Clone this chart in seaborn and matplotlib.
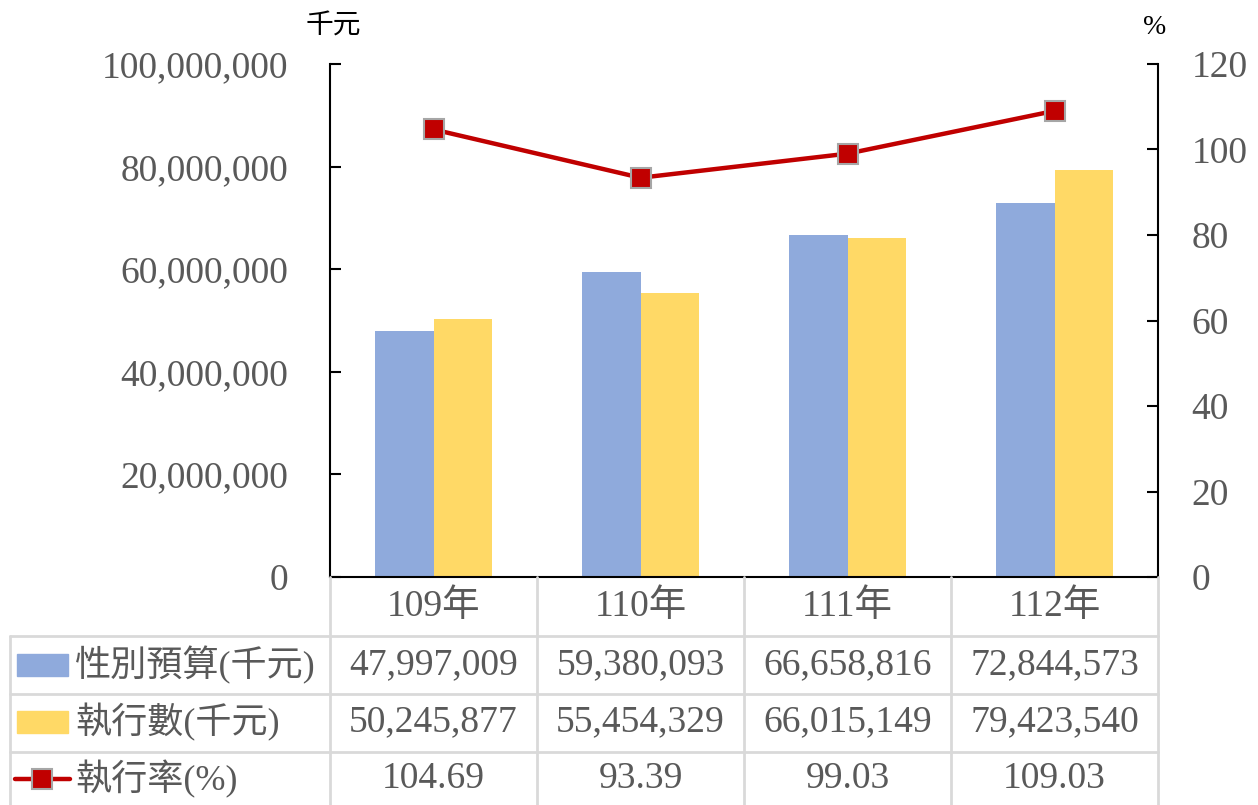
import numpy as np
import pandas as pd
import matplotlib
matplotlib.use("Agg")
import matplotlib.pyplot as plt
import seaborn as sns
from matplotlib.lines import Line2D
from matplotlib.patches import Rectangle

years = ['109年', '110年', '111年', '112年']
budget = [47997009, 59380093, 66658816, 72844573]
spent = [50245877, 55454329, 66015149, 79423540]
rate = [104.69, 93.39, 99.03, 109.03]
series_names = ['性別預算(千元)', '執行數(千元)', '執行率(%)']

blue = '#8faadc'
yellow = '#ffd966'
red = '#c00000'
grey_txt = '#595959'
grid_c = '#d9d9d9'

sns.set_style('white')
plt.rcParams['font.family'] = ['Liberation Serif', 'Noto Sans CJK TC']

W, H = 1258, 805
fig = plt.figure(figsize=(W / 100, H / 100), dpi=100)

def fx(x):
    return x / W

def fy(y):
    return 1 - y / H

# plot area in pixels
L, R, T, B = 330, 1158, 64, 577
ax = fig.add_axes([fx(L), fy(B), fx(R) - fx(L), fy(T) - fy(B)])

df = pd.DataFrame({'year': years * 2,
                   'value': budget + spent,
                   'series': [series_names[0]] * 4 + [series_names[1]] * 4})
sns.barplot(data=df, x='year', y='value', hue='series', palette=[blue, yellow],
            width=0.57, saturation=1, legend=False, ax=ax, linewidth=0)
ax.set_ylim(0, 100000000)
ax.set_yticks(np.arange(0, 100000001, 20000000))
ax.set_yticklabels([f'{int(v):,}' for v in np.arange(0, 100000001, 20000000)])
ax.set_xlim(-0.5, 3.5)
ax.set_xticks([])
ax.set_xlabel('')
ax.set_ylabel('')
for s in ['left', 'bottom']:
    ax.spines[s].set_color('black')
    ax.spines[s].set_linewidth(1.5)
ax.spines['top'].set_visible(False)
ax.spines['right'].set_visible(False)
ax.tick_params(axis='y', direction='in', length=8, width=1.5, color='black',
               labelsize=27, labelcolor=grey_txt, pad=30, left=True)

ax2 = ax.twinx()
ax2.plot(range(4), rate, color=red, lw=3.2, marker='s', markersize=14,
         markerfacecolor=red, markeredgecolor='#a6a6a6', markeredgewidth=1.5)
ax2.set_ylim(0, 120)
ax2.set_yticks(np.arange(0, 121, 20))
ax2.spines['top'].set_visible(False)
ax2.spines['left'].set_visible(False)
ax2.spines['bottom'].set_visible(False)
ax2.spines['right'].set_color('black')
ax2.spines['right'].set_linewidth(1.5)
ax2.tick_params(axis='y', direction='in', length=8, width=1.5, color='black',
                labelsize=27, labelcolor=grey_txt, pad=24, right=True)

fig.text(fx(333), fy(27), '千元', ha='center', va='center', fontsize=20, color='black')
fig.text(fx(1155), fy(27), '%', ha='center', va='center', fontsize=20, color='black')

# data table
col_x = [L + i * (R - L) / 4 for i in range(5)]
row_y = [B, 636, 694, 752, 805]
lw = 2
for x in col_x:
    fig.add_artist(Line2D([fx(x), fx(x)], [fy(B), fy(805)], color=grid_c, lw=lw))
fig.add_artist(Line2D([fx(10), fx(10)], [fy(636), fy(805)], color=grid_c, lw=lw))
for y in row_y[1:4]:
    fig.add_artist(Line2D([fx(10), fx(R)], [fy(y), fy(y)], color=grid_c, lw=lw))

for i, yr in enumerate(years):
    cx = (col_x[i] + col_x[i + 1]) / 2
    fig.text(fx(cx), fy(607), yr, ha='center', va='center', fontsize=27, color=grey_txt)
    fig.text(fx(cx), fy(665), f'{budget[i]:,}', ha='center', va='center', fontsize=27, color=grey_txt)
    fig.text(fx(cx), fy(722), f'{spent[i]:,}', ha='center', va='center', fontsize=27, color=grey_txt)
    fig.text(fx(cx), fy(779), f'{rate[i]:.2f}', ha='center', va='center', fontsize=27, color=grey_txt)

row_centers = [665, 722, 779]
fig.add_artist(Rectangle((fx(17), fy(676)), fx(68) - fx(17), fy(654) - fy(676), color=blue))
fig.add_artist(Rectangle((fx(17), fy(733)), fx(68) - fx(17), fy(711) - fy(733), color=yellow))
fig.add_artist(Line2D([fx(15), fx(70)], [fy(779), fy(779)], color=red, lw=3.2))
fig.add_artist(Line2D([fx(42)], [fy(779)], color=red, marker='s', markersize=14,
                      markerfacecolor=red, markeredgecolor='#a6a6a6', markeredgewidth=1.5))
for name, cy in zip(series_names, row_centers):
    fig.text(fx(75), fy(cy), name, ha='left', va='center', fontsize=26, color=grey_txt)

fig.savefig('out.png', dpi=100)
